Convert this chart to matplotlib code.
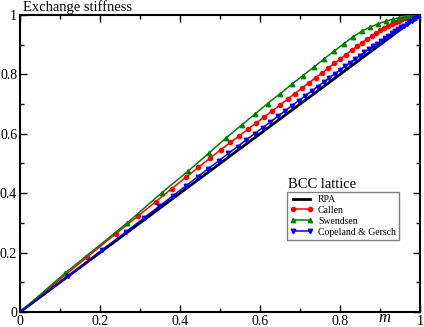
import matplotlib
matplotlib.use("Agg")
import matplotlib.pyplot as plt
from matplotlib.ticker import MultipleLocator

plt.rcParams["font.family"] = ["Liberation Serif", "DejaVu Serif"]

# RPA: straight line
rpa_m = [0, 1]
rpa_y = [0, 1]

# Callen decoupling
callen_m = [0, .167, .24, .294, .34, .379, .414, .446, .475, .502, .526, .548, .570,
            .591, .611, .631, .650, .669, .687, .705, .722, .739, .755, .771, .786,
            .801, .815, .829, .842, .855, .867, .879, .890, .901, .911, .921, .930,
            .939, .947, .955, .962, .969, .975, .981, .986, .991, .995, .998, 1.0]
callen_y = [0, .184, .264, .322, .372, .415, .453, .487, .518, .546, .571, .593, .616,
            .637, .657, .678, .697, .717, .735, .754, .771, .789, .805, .822, .837,
            .853, .867, .881, .894, .907, .918, .929, .939, .948, .956, .964, .970,
            .976, .981, .985, .989, .992, .994, .996, .997, .998, .999, 1.0, 1.0]

# Swendsen
swendsen_m = [0, .112, .268, .354, .421, .472, .516, .555, .588, .619, .650, .679,
              .707, .734, .760, .785, .809, .832, .854, .875, .895, .914, .932, .948,
              .963, .976, .987, .995, 1.0]
swendsen_y = [0, .130, .300, .401, .475, .535, .587, .631, .667, .702, .735, .766,
              .796, .824, .852, .878, .903, .926, .945, .959, .970, .979, .986, .991,
              .995, .998, .999, 1.0, 1.0]

# Copeland & Gersch
cg_m = [0, .121, .204, .265, .31, .348, .383, .415, .444, .471, .497, .521, .544,
        .566, .587, .607, .626, .645, .663, .680, .697, .713, .729, .744, .759, .773,
        .787, .800, .813, .826, .838, .850, .861, .872, .883, .893, .903, .912, .921,
        .930, .938, .946, .953, .960, .967, .973, .979, .984, .989, .993, .996, .999, 1.0]
cg_y = [0, .122, .208, .270, .317, .356, .392, .425, .455, .483, .509, .534, .557,
        .580, .601, .621, .640, .659, .678, .695, .712, .728, .744, .759, .774, .788,
        .802, .815, .828, .840, .852, .863, .874, .885, .895, .904, .913, .922, .930,
        .938, .945, .952, .958, .964, .970, .975, .981, .986, .991, .995, .997, .999, 1.0]

fig = plt.figure(figsize=(4.24, 3.27), dpi=100)
ax = fig.add_axes([20 / 424, 1 - 312 / 327, 400 / 424, 297 / 327])

ax.plot(rpa_m, rpa_y, color="black", lw=2.0, label="RPA", zorder=2)
ax.plot(callen_m, callen_y, color="red", lw=1.1, marker="o", ms=3.0,
        markevery=slice(1, None), label="Callen", zorder=3)
ax.plot(swendsen_m, swendsen_y, color="green", lw=1.1, marker="^", ms=3.2,
        markevery=slice(1, None), label="Swendsen", zorder=3)
ax.plot(cg_m, cg_y, color="blue", lw=1.1, marker="v", ms=3.2,
        markevery=slice(1, None), label="Copeland & Gersch", zorder=3)

ax.set_xlim(0, 1)
ax.set_ylim(0, 1)
ax.xaxis.set_major_locator(MultipleLocator(0.2))
ax.xaxis.set_minor_locator(MultipleLocator(0.1))
ax.yaxis.set_major_locator(MultipleLocator(0.2))
ax.yaxis.set_minor_locator(MultipleLocator(0.1))
ax.xaxis.set_major_formatter(plt.FuncFormatter(lambda v, p: f"{v:g}"))
ax.yaxis.set_major_formatter(plt.FuncFormatter(lambda v, p: f"{v:g}"))
ax.tick_params(which="both", direction="in", top=True, right=True, width=1.0,
               labelsize=10, pad=2)
ax.tick_params(which="major", length=5)
ax.tick_params(which="minor", length=3)
for s in ax.spines.values():
    s.set_linewidth(1.5)

ax.text(0.008, 1 + 4.5 / 297, "Exchange stiffness", transform=ax.transAxes,
        fontsize=10.5, ha="left", va="baseline")
ax.text(0.912, -10.5 / 297, "m", transform=ax.transAxes, fontsize=12, style="italic",
        ha="center", va="baseline")

fig.text(288 / 424, 1 - 184 / 327, "BCC lattice", fontsize=10.5, ha="left", va="center")
leg = ax.legend(loc="upper left", bbox_to_anchor=(287 / 424, 1 - 192 / 327),
                bbox_transform=fig.transFigure, fontsize=7, frameon=True,
                fancybox=False, edgecolor="gray", framealpha=1, borderaxespad=0,
                handlelength=2.4, handletextpad=0.5, labelspacing=0.2,
                borderpad=0.3, numpoints=2)
leg.get_frame().set_linewidth(1.0)

fig.savefig("out.png", dpi=100)
